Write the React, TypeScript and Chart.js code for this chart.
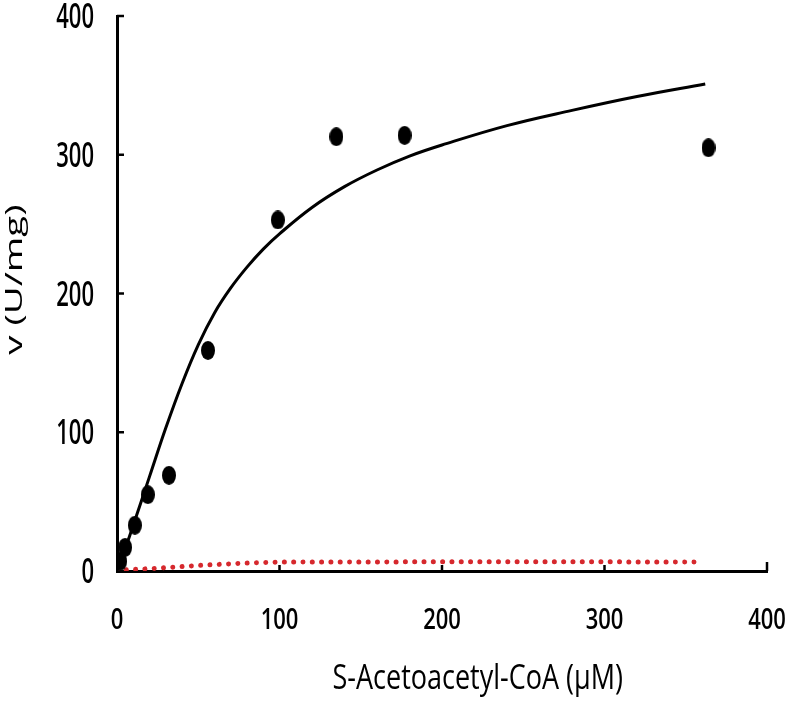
import React, { useEffect, useRef } from "react";
import { Chart, registerables } from "chart.js";

Chart.register(...registerables);

// Axis tick labels
const xTickValues = [0, 100, 200, 300, 400];
const yTickValues = [0, 100, 200, 300, 400];

// Measured data points: substrate (µM) vs rate (U/mg)
const pointX = [2, 5, 11, 19, 32, 56, 99, 135, 177, 364];
const pointY = [7, 17, 33, 55, 69, 159, 253, 313, 314, 305];

// Fitted curve (black)
const fitX = [0, 5, 10, 20, 30, 40, 50, 60, 70, 80, 90, 100, 120, 140, 160, 180, 200, 240, 280, 320, 362];
const fitY = [0, 16, 33, 68, 103, 135, 163, 186, 204, 219, 232, 243, 262, 277, 289, 299, 307, 321, 332, 342, 351];

// Control curve (red dotted)
const ctrlX = [0, 25, 50, 75, 100, 200, 300, 360];
const ctrlY = [0.5, 2, 4, 5.5, 6.5, 6.6, 6.6, 6.5];

const xTitle = "S-Acetoacetyl-CoA (\u00b5M)";
const yTitle = "v (U/mg)";

const FONT = "'Open Sans', 'Noto Sans', sans-serif";
const CAP = 0.714;

function makeEllipse(): HTMLCanvasElement {
  const c = document.createElement("canvas");
  c.width = 14;
  c.height = 19;
  const g = c.getContext("2d")!;
  g.fillStyle = "#000";
  g.beginPath();
  g.ellipse(7, 9.5, 7, 9.5, 0, 0, Math.PI * 2);
  g.fill();
  return c;
}

// draws text with its cap-height centred at y, stretched vertically by s
function stretchedText(ctx: CanvasRenderingContext2D, text: string, x: number, y: number, size: number, s: number, align: CanvasTextAlign, weight: number) {
  ctx.save();
  ctx.font = `${weight} ${size}px ${FONT}`;
  ctx.textAlign = align;
  ctx.textBaseline = "alphabetic";
  ctx.translate(x, y + (CAP * size * s) / 2);
  ctx.scale(1, s);
  ctx.fillText(text, 0, 0);
  ctx.restore();
}

const decorPlugin = {
  id: "decor",
  afterDraw(chart: any) {
    const { ctx, scales } = chart;
    const xs = scales.x;
    const ys = scales.y;
    const x0 = xs.getPixelForValue(0);
    const y0 = ys.getPixelForValue(0);
    ctx.save();
    ctx.strokeStyle = "#000";
    ctx.fillStyle = "#000";
    ctx.lineWidth = 2.5;
    // inner tick marks
    for (const v of xTickValues) {
      if (v === 0) continue;
      const px = xs.getPixelForValue(v);
      ctx.beginPath();
      ctx.moveTo(px, y0);
      ctx.lineTo(px, y0 - (v === 400 ? 9 : 6));
      ctx.stroke();
    }
    for (const v of yTickValues) {
      if (v === 0) continue;
      const py = ys.getPixelForValue(v);
      ctx.beginPath();
      ctx.moveTo(x0, py);
      ctx.lineTo(x0 + 7, py);
      ctx.stroke();
    }
    // tick labels
    for (const v of xTickValues) {
      stretchedText(ctx, String(v), xs.getPixelForValue(v), y0 + 47, 22, 1.35, "center", 600);
    }
    for (const v of yTickValues) {
      stretchedText(ctx, String(v), x0 - 23, ys.getPixelForValue(v), 22, 1.55, "right", 600);
    }
    // x title
    stretchedText(ctx, xTitle, xs.getPixelForValue(222), 677, 27, 1.28, "center", 500);
    // y title (rotated, stretched along its length)
    ctx.save();
    ctx.font = `500 24px ${FONT}`;
    ctx.textAlign = "center";
    ctx.textBaseline = "alphabetic";
    ctx.translate(22, ys.getPixelForValue(210));
    ctx.scale(1, 1.6);
    ctx.rotate(-Math.PI / 2);
    ctx.fillText(yTitle, 0, 0);
    ctx.restore();
    ctx.restore();
  },
};

export default function App() {
  const ref = useRef<HTMLCanvasElement | null>(null);
  useEffect(() => {
    const canvas = ref.current!;
    const dot = makeEllipse();
    const chart = new Chart(canvas, {
      type: "scatter",
      data: {
        datasets: [
          {
            label: "data",
            data: pointX.map((x, i) => ({ x, y: pointY[i] })),
            pointStyle: dot as any,
            pointRadius: 7,
            showLine: false,
            backgroundColor: "#000",
            borderColor: "#000",
            order: 0,
          },
          {
            label: "fit",
            data: fitX.map((x, i) => ({ x, y: fitY[i] })),
            showLine: true,
            pointRadius: 0,
            borderColor: "#000",
            borderWidth: 3,
            tension: 0.4,
            order: 1,
          },
          {
            label: "control",
            data: ctrlX.map((x, i) => ({ x, y: ctrlY[i] })),
            showLine: true,
            pointRadius: 0,
            borderColor: "#d6282d",
            borderWidth: 5,
            borderDash: [0.01, 9.3],
            borderCapStyle: "round",
            order: 2,
          },
        ],
      },
      options: {
        animation: false,
        responsive: false,
        layout: { padding: { top: 16, right: 20, left: 0, bottom: 0 } },
        plugins: { legend: { display: false }, tooltip: { enabled: false } },
        scales: {
          x: {
            type: "linear",
            min: 0,
            max: 400,
            afterFit: (s: any) => {
              s.height = 132;
            },
            afterBuildTicks: (s: any) => {
              s.ticks = xTickValues.map((v) => ({ value: v }));
            },
            grid: { display: false, drawTicks: false },
            border: { display: true, color: "#000", width: 3 },
            ticks: { display: false },
          },
          y: {
            type: "linear",
            min: 0,
            max: 400,
            afterFit: (s: any) => {
              s.width = 117;
            },
            afterBuildTicks: (s: any) => {
              s.ticks = yTickValues.map((v) => ({ value: v }));
            },
            grid: { display: false, drawTicks: false },
            border: { display: true, color: "#000", width: 3 },
            ticks: { display: false },
          },
        },
      },
      plugins: [decorPlugin],
    });
    return () => chart.destroy();
  }, []);
  return (
    <div style={{ position: "absolute", left: 0, top: 0, width: 787, height: 703, background: "#fff" }}>
      <canvas ref={ref} width={787} height={703} style={{ width: 787, height: 703, display: "block" }} />
    </div>
  );
}
